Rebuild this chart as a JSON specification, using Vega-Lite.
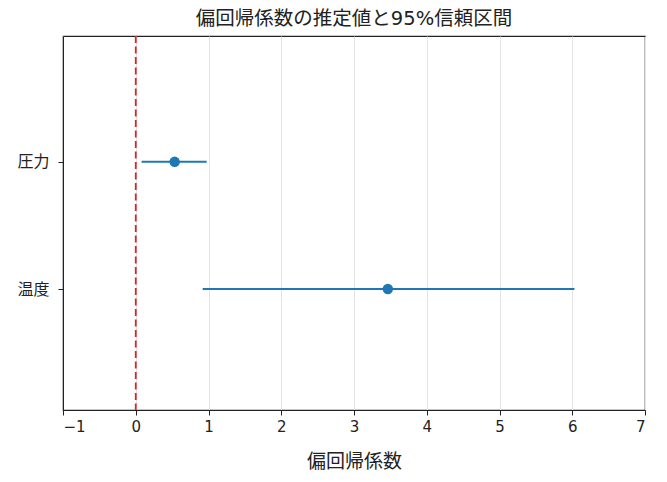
{
  "$schema": "https://vega.github.io/schema/vega-lite/v6.json",
  "width": 582,
  "height": 374,
  "autosize": {"type": "none"},
  "padding": {"left": 63, "top": 36, "right": 22, "bottom": 72},
  "background": "white",
  "title": {
    "text": "偏回帰係数の推定値と95%信頼区間",
    "font": "DejaVu Sans, Noto Sans CJK JP",
    "fontSize": 19.5,
    "fontWeight": "normal",
    "color": "#222222",
    "offset": 6
  },
  "config": {
    "view": {"stroke": "#222222", "strokeWidth": 1.2},
    "axis": {
      "labelFont": "DejaVu Sans, Noto Sans CJK JP",
      "titleFont": "DejaVu Sans, Noto Sans CJK JP",
      "labelFontSize": 15,
      "titleFontSize": 19,
      "titleFontWeight": "normal",
      "labelColor": "#222222",
      "titleColor": "#222222",
      "domainColor": "#222222",
      "tickColor": "#222222",
      "tickSize": 5,
      "labelPadding": 4
    }
  },
  "data": {
    "values": [
      {"var": "圧力", "est": 0.535, "lo": 0.08, "hi": 0.975},
      {"var": "温度", "est": 3.465, "lo": 0.92, "hi": 6.03}
    ]
  },
  "layer": [
    {
      "mark": {"type": "rule", "color": "#1f77b4", "strokeWidth": 2},
      "encoding": {
        "x": {
          "field": "lo",
          "type": "quantitative",
          "scale": {"domain": [-1, 7], "nice": false, "zero": false},
          "axis": {
            "values": [-1, 0, 1, 2, 3, 4, 5, 6, 7],
            "format": "d",
            "title": "偏回帰係数",
            "grid": true,
            "gridColor": "#e3e3e3",
            "gridWidth": 1,
            "titlePadding": 18
          }
        },
        "x2": {"field": "hi"},
        "y": {
          "field": "var",
          "type": "nominal",
          "sort": ["圧力", "温度"],
          "scale": {"type": "point", "padding": 0.97, "align": 0.51},
          "axis": {"title": null, "grid": false, "labelPadding": 9, "labelFontSize": 16}
        }
      }
    },
    {
      "mark": {"type": "point", "filled": true, "opacity": 1, "color": "#1f77b4", "size": 110},
      "encoding": {
        "x": {"field": "est", "type": "quantitative"},
        "y": {"field": "var", "type": "nominal", "sort": ["圧力", "温度"]}
      }
    },
    {
      "data": {"values": [{"x0": 0}]},
      "mark": {"type": "rule", "color": "#d62728", "strokeWidth": 1.8, "strokeDash": [7, 3.5]},
      "encoding": {
        "x": {"field": "x0", "type": "quantitative"}
      }
    }
  ]
}
